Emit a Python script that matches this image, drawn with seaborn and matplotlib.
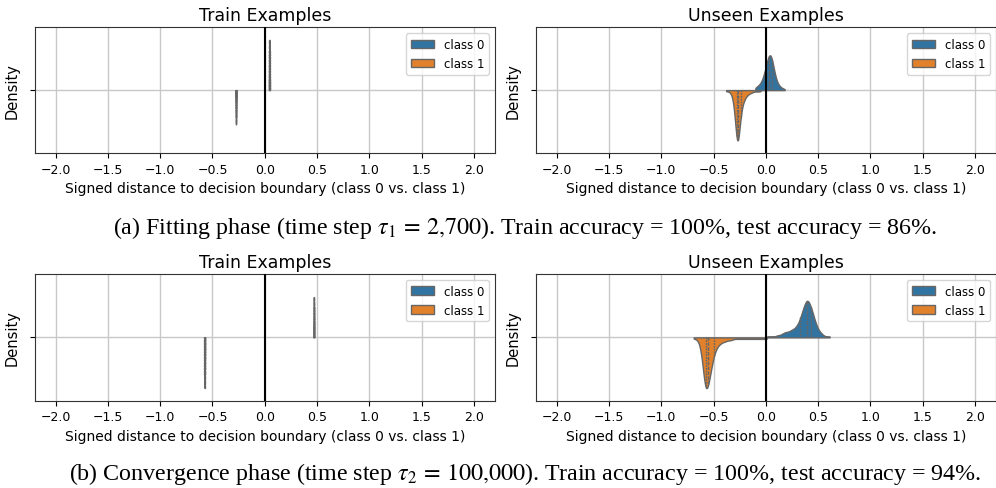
import numpy as np
import pandas as pd
import seaborn as sns
import matplotlib.pyplot as plt

# signed distances, as value bins + how many examples fall in each
# (a) fitting phase
train_a_c0_vals = [0.040, 0.043, 0.045, 0.047, 0.050]
train_a_c0_cnts = [1, 3, 6, 3, 1]
train_a_c1_vals = [-0.282, -0.278, -0.275, -0.272, -0.268]
train_a_c1_cnts = [1, 3, 6, 3, 1]

unseen_a_c0_vals = [-0.10, -0.09, -0.08, -0.07, -0.06, -0.05, -0.04, -0.03, -0.02, -0.01,
                    0.00, 0.01, 0.02, 0.03, 0.04, 0.05, 0.06, 0.07, 0.08, 0.09,
                    0.10, 0.11, 0.12, 0.13, 0.14, 0.15, 0.16, 0.17, 0.18]
unseen_a_c0_cnts = [2, 2, 3, 3, 4, 5, 6, 8, 10, 13,
                    16, 19, 22, 24, 25, 24, 21, 17, 13, 10,
                    7, 5, 4, 3, 2, 2, 1, 1, 1]
unseen_a_c1_vals = [-0.38, -0.37, -0.36, -0.35, -0.34, -0.33, -0.32, -0.31, -0.30, -0.29,
                    -0.28, -0.27, -0.26, -0.25, -0.24, -0.23, -0.22, -0.21, -0.20, -0.19,
                    -0.18, -0.17, -0.16, -0.15, -0.14, -0.13, -0.12, -0.11, -0.10, -0.09,
                    -0.08, -0.07, -0.06, -0.05]
unseen_a_c1_cnts = [1, 1, 1, 1, 2, 3, 5, 9, 16, 26,
                    38, 44, 36, 26, 18, 13, 10, 8, 6, 5,
                    4, 3, 3, 2, 2, 2, 1, 1, 1, 1,
                    1, 1, 1, 1]

# (b) convergence phase
train_b_c0_vals = [0.4649, 0.4675, 0.4700, 0.4725, 0.4751]
train_b_c0_cnts = [1, 3, 6, 3, 1]
train_b_c1_vals = [-0.579, -0.577, -0.575, -0.573, -0.571]
train_b_c1_cnts = [1, 3, 6, 3, 1]

unseen_b_c0_vals = [0.01, 0.03, 0.05, 0.07, 0.09, 0.11, 0.13, 0.15, 0.17, 0.19,
                    0.21, 0.23, 0.25, 0.27, 0.29, 0.31, 0.33, 0.35, 0.37, 0.39,
                    0.41, 0.43, 0.45, 0.47, 0.49, 0.51, 0.53, 0.55, 0.57, 0.59, 0.61]
unseen_b_c0_cnts = [1, 1, 1, 1, 1, 2, 2, 3, 4, 5,
                    5, 6, 7, 8, 10, 13, 18, 24, 30, 34,
                    33, 28, 22, 15, 10, 6, 4, 2, 1, 1, 1]
unseen_b_c1_vals = [-0.69, -0.67, -0.65, -0.63, -0.61, -0.59, -0.57, -0.55, -0.53, -0.51,
                    -0.49, -0.47, -0.45, -0.43, -0.41, -0.39, -0.37, -0.35, -0.33, -0.31,
                    -0.29, -0.27, -0.25, -0.23, -0.21, -0.19, -0.17, -0.15, -0.13, -0.11,
                    -0.09, -0.07, -0.05, -0.03, -0.01, 0.01]
unseen_b_c1_cnts = [1, 1, 2, 5, 14, 30, 38, 32, 24, 16,
                    10, 7, 5, 4, 3, 3, 2, 2, 2, 1,
                    1, 1, 1, 1, 1, 1, 1, 1, 1, 1,
                    1, 1, 1, 1, 1, 1]

class_names = ["class 0", "class 1"]
x_ticks = [-2.0, -1.5, -1.0, -0.5, 0.0, 0.5, 1.0, 1.5, 2.0]

captions = [
    r"(a) Fitting phase (time step $\tau_1\, =\, 2{,}700$). Train accuracy = 100%, test accuracy = 86%.",
    r"(b) Convergence phase (time step $\tau_2\, =\, 100{,}000$). Train accuracy = 100%, test accuracy = 94%.",
]

plt.rcParams['mathtext.fontset'] = 'stix'


def to_frame(v0, n0, v1, n1):
    d0 = np.repeat(v0, n0)
    d1 = np.repeat(v1, n1)
    return pd.DataFrame({
        "dist": np.concatenate([d0, d1]),
        "cls": [class_names[0]] * len(d0) + [class_names[1]] * len(d1),
    })


def draw_panel(ax, df, title, bw=1.0):
    sns.violinplot(data=df, x="dist", hue="cls", hue_order=class_names,
                   split=True, inner="quart", cut=0, bw_adjust=bw,
                   common_norm=True, ax=ax,
                   palette=["#1f77b4", "#ff7f0e"], saturation=0.75,
                   linewidth=1, linecolor="0.4")
    ax.axvline(0, color="black", linewidth=1.5, zorder=3)
    ax.set_xlim(-2.2, 2.2)
    ax.set_ylim(0.5, -0.5)
    ax.set_xticks(x_ticks)
    ax.set_yticks([0])
    ax.set_yticklabels([""])
    ax.grid(True, color="#c8c8c8", linewidth=1)
    ax.set_axisbelow(True)
    ax.tick_params(labelsize=9)
    ax.set_title(title, fontsize=12.5, pad=5)
    ax.set_xlabel("Signed distance to decision boundary (class 0 vs. class 1)", fontsize=10)
    ax.set_ylabel("Density", fontsize=10.5)
    for s in ax.spines.values():
        s.set_color("0.2")
    leg = ax.legend(loc="upper right", fontsize=8.5, framealpha=0.8)
    for h in leg.get_patches():
        h.set_edgecolor("0.4")


fig = plt.figure(figsize=(9.96, 4.89), dpi=100)
ax1 = fig.add_axes([0.0349, 0.6851, 0.4618, 0.2571])
ax2 = fig.add_axes([0.5380, 0.6851, 0.4618, 0.2571])
ax3 = fig.add_axes([0.0349, 0.1785, 0.4618, 0.2590])
ax4 = fig.add_axes([0.5380, 0.1785, 0.4618, 0.2590])

draw_panel(ax1, to_frame(train_a_c0_vals, train_a_c0_cnts, train_a_c1_vals, train_a_c1_cnts),
           "Train Examples")
draw_panel(ax2, to_frame(unseen_a_c0_vals, unseen_a_c0_cnts, unseen_a_c1_vals, unseen_a_c1_cnts),
           "Unseen Examples", bw=0.8)
draw_panel(ax3, to_frame(train_b_c0_vals, train_b_c0_cnts, train_b_c1_vals, train_b_c1_cnts),
           "Train Examples")
draw_panel(ax4, to_frame(unseen_b_c0_vals, unseen_b_c0_cnts, unseen_b_c1_vals, unseen_b_c1_cnts),
           "Unseen Examples", bw=0.4)

fig.text(0.527, 1 - 228 / 489, captions[0], ha="center", va="center",
         fontsize=17.3, family="Liberation Serif")
fig.text(0.527, 1 - 474 / 489, captions[1], ha="center", va="center",
         fontsize=17.3, family="Liberation Serif")

fig.savefig("out.png", dpi=100)
